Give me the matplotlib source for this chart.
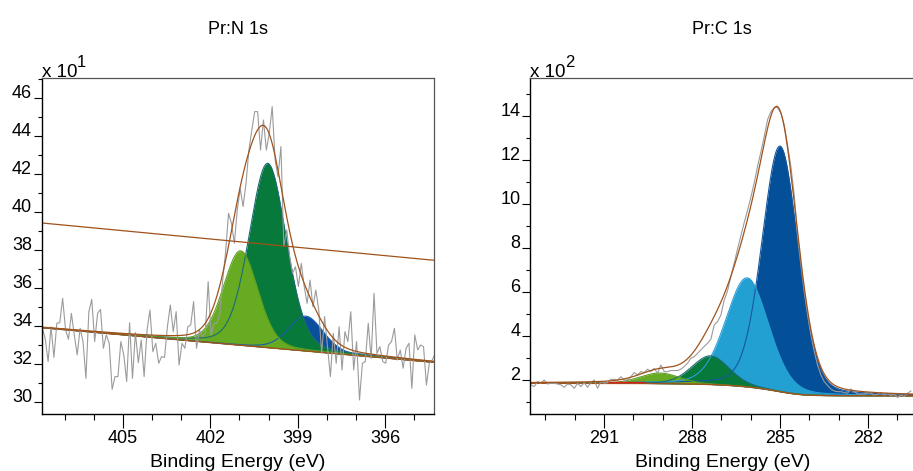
import numpy as np
import matplotlib.pyplot as plt
from matplotlib.ticker import MultipleLocator

plt.rcParams["font.family"] = ["Liberation Sans", "DejaVu Sans"]

# ---- Pr:N 1s (counts x 10^1), raw spectrum ----
n1s_be_range = [407.77, 394.28]
n1s_counts = [
    33.89, 33.36, 32.14, 33.97, 32.36, 34.15, 34.18, 35.46, 33.80, 33.31,
    34.67, 33.54, 32.49, 33.89, 33.19, 31.26, 34.76, 35.41, 33.19, 34.67,
    34.88, 32.84, 33.54, 33.10, 30.68, 31.35, 31.35, 33.19, 32.49, 31.09,
    34.18, 31.26, 33.66, 32.08, 33.27, 31.35,
    33.80, 34.85, 32.66, 33.10, 32.05, 32.40, 32.36, 33.97, 35.11, 33.71,
    34.76, 31.96, 33.10, 32.84, 33.97, 34.06, 35.29, 32.84, 33.80, 33.45,
    33.62, 36.34, 33.54, 34.15, 34.15, 34.67, 36.42, 37.91, 39.93, 39.40,
    38.35, 40.10, 41.24, 40.28, 41.50,
    43.25, 44.30, 45.27, 45.27, 43.25, 44.83, 43.25, 44.13, 45.53, 42.73,
    41.85, 43.43, 38.18, 39.05, 37.65, 36.78, 37.12, 36.08, 37.30, 36.08,
    35.20, 36.42, 35.02, 35.90, 34.85, 32.57, 34.50, 32.92, 31.35, 33.62,
    32.05, 33.97,
    31.70, 33.71, 33.19, 34.76, 31.70, 33.19, 30.12, 32.05, 32.14, 34.15,
    32.31, 35.72, 32.57, 32.92, 32.14, 32.05, 33.01, 33.19, 33.89, 32.22,
    32.75, 31.79, 32.84, 33.10, 30.73, 33.54, 32.75, 33.01, 32.92, 30.91,
    32.05, 32.22, 32.57,
]
n1s_xlim = [407.79, 394.32]
n1s_ylim = [29.37, 47.05]
n1s_bg_ends = [33.92, 32.10]     # linear background at the two x limits
n1s_line_ends = [39.42, 37.46]   # straight brown line across the panel
n1s_centers = [398.72, 400.03, 400.96]
n1s_heights = [1.83, 9.68, 4.96]
n1s_fwhm = [1.4, 1.5, 1.4]

# ---- Pr:C 1s (counts x 10^2) ----
c1s_be_range = [293.49, 280.54]
c1s_counts = [
    1.78, 1.70, 1.93, 1.85, 2.00, 1.82, 1.85, 1.85, 1.82, 1.78,
    1.67, 1.82, 1.78, 1.62, 1.85, 1.70, 1.88, 1.67, 1.88, 2.00,
    1.62, 1.93, 1.85, 1.88, 2.03, 2.03, 2.00, 2.15, 2.00, 2.00,
    2.15, 2.34, 2.23, 2.38, 2.34, 2.49, 2.38, 2.53, 2.31, 2.68,
    2.38, 2.38, 2.43, 2.43, 2.43, 2.49, 2.61, 2.76, 2.99, 3.06,
    3.21, 3.37, 3.52, 3.67,
    3.85, 4.50, 4.65, 4.95, 5.63, 6.05, 6.70, 7.30, 7.95, 8.55,
    9.15, 9.70, 10.30, 10.95, 11.70, 12.35, 13.05, 13.81, 14.18, 14.36,
    14.36, 14.11, 13.58, 12.67, 11.69, 10.40, 8.58, 7.22, 6.01, 4.95,
    4.05, 3.29, 2.68, 2.23, 1.93, 1.75, 1.59, 1.50,
    1.47, 1.47, 1.43, 1.40, 1.59, 1.47, 1.37, 1.37, 1.35, 1.43,
    1.40, 1.32, 1.35, 1.43, 1.32, 1.40, 1.29, 1.35, 1.20, 1.32,
    1.25, 1.40, 1.50,
]
c1s_xlim = [293.51, 280.40]
c1s_ylim = [0.443, 15.72]
c1s_bg_ends = [1.85, 1.28]       # Shirley background, high-BE and low-BE levels
c1s_centers = [285.00, 286.12, 287.37, 289.10]
c1s_heights = [11.15, 4.95, 1.30, 0.48]
c1s_fwhm = [1.45, 1.72, 1.5, 1.6]
c1s_red_span = [290.9, 289.6]

RAW = "#9b9b9b"
BROWN = "#a0521c"
n1s_fills = ["#0a4f9e", "#06793b", "#66ab22"]
n1s_edges = ["#1c5ea8", "#1d6a78", "#5e9f22"]
c1s_fills = ["#034f98", "#22a0d2", "#06793b", "#66ab22"]
c1s_edges = ["#1857a0", "#2a9fd6", "#1d6a78", "#5e9f22"]


# pseudo-Voigt (Gaussian/Lorentzian sum) line shape
def gl_peak(x, center, height, fwhm, mix=0.2):
    u = (x - center) / fwhm
    return height * ((1 - mix) * np.exp(-4 * np.log(2) * u ** 2) + mix / (1 + 4 * u ** 2))


def style_axes(ax, xlim, ylim, exponent):
    ax.set_xlim(xlim)
    ax.set_ylim(ylim)
    ax.xaxis.set_major_locator(MultipleLocator(3))
    ax.xaxis.set_minor_locator(MultipleLocator(1))
    ax.yaxis.set_major_locator(MultipleLocator(2))
    ax.yaxis.set_minor_locator(MultipleLocator(1))
    ax.tick_params(axis="both", which="both", direction="out", width=0.8,
                   labelsize=13, top=False, right=False)
    ax.tick_params(axis="y", which="major", length=6, pad=1)
    ax.tick_params(axis="y", which="minor", length=3)
    ax.tick_params(axis="x", which="major", length=10, pad=1.5)
    ax.tick_params(axis="x", which="minor", length=4.5)
    for tick in ax.yaxis.get_major_ticks():
        tick.label1.set_verticalalignment("baseline")
    for side in ["left", "bottom"]:
        ax.spines[side].set_color("black")
        ax.spines[side].set_linewidth(1.0)
    for side in ["top", "right"]:
        ax.spines[side].set_color("#555555")
        ax.spines[side].set_linewidth(0.9)
    ax.set_xlabel("Binding Energy (eV)", fontsize=14)
    ax.xaxis.set_label_coords(0.5, -0.1566)
    ax.xaxis.label.set_verticalalignment("baseline")
    ax.annotate("x 10", xy=(0, 1), xycoords="axes fraction", xytext=(0, 0.6),
                textcoords="offset points", fontsize=13.5, ha="left", va="baseline")
    ax.annotate(exponent, xy=(0, 1), xycoords="axes fraction", xytext=(25.2, 7.9),
                textcoords="offset points", fontsize=12, ha="left", va="baseline")


def draw_components(ax, xf, bg, comps, fills, edges):
    # lowest binding energy first, so higher-BE peaks sit on top
    for comp, color in zip(comps, fills):
        ax.fill_between(xf, bg, bg + comp, color=color, lw=0)
    for comp, color in zip(comps, edges):
        ax.plot(xf, bg + comp, color=color, lw=0.8)


fig = plt.figure(figsize=(9.13, 4.71), dpi=100)
ax1 = fig.add_axes([41.7 / 913, 56.7 / 471, 392.3 / 913, 336.6 / 471])
ax2 = fig.add_axes([530.3 / 913, 56.7 / 471, 384.7 / 913, 336.6 / 471])

# N 1s panel
xf = np.linspace(n1s_xlim[0], n1s_xlim[1], 800)
bg = np.interp(xf, n1s_xlim[::-1], n1s_bg_ends[::-1])
comps = [gl_peak(xf, c, h, w) for c, h, w in zip(n1s_centers, n1s_heights, n1s_fwhm)]
draw_components(ax1, xf, bg, comps, n1s_fills, n1s_edges)
ax1.plot(xf, bg, color=BROWN, lw=1.0)
n1s_be = np.linspace(n1s_be_range[0], n1s_be_range[1], len(n1s_counts))
ax1.plot(n1s_be, n1s_counts, color=RAW, lw=0.8)
ax1.plot(xf, bg + np.sum(comps, axis=0), color=BROWN, lw=0.9)
ax1.plot(n1s_xlim, n1s_line_ends, color=BROWN, lw=0.9)
style_axes(ax1, n1s_xlim, n1s_ylim, "1")

# C 1s panel
xf = np.linspace(c1s_xlim[0], c1s_xlim[1], 800)
comps = [gl_peak(xf, c, h, w) for c, h, w in zip(c1s_centers, c1s_heights, c1s_fwhm)]
total = np.sum(comps, axis=0)
area = np.cumsum(total[::-1])[::-1]
bg = c1s_bg_ends[1] + (c1s_bg_ends[0] - c1s_bg_ends[1]) * area / area[0]
draw_components(ax2, xf, bg, comps, c1s_fills, c1s_edges)
ax2.plot(xf, bg, color=BROWN, lw=1.0)
red = (xf <= c1s_red_span[0]) & (xf >= c1s_red_span[1])
ax2.plot(xf[red], bg[red] + 0.04, color="#d42020", lw=1.0)
c1s_be = np.linspace(c1s_be_range[0], c1s_be_range[1], len(c1s_counts))
ax2.plot(c1s_be, c1s_counts, color=RAW, lw=0.8)
ax2.plot(xf, bg + total, color=BROWN, lw=0.9)
style_axes(ax2, c1s_xlim, c1s_ylim, "2")

fig.text(238 / 913, 1 - 34 / 471, "Pr:N 1s", ha="center", va="baseline", fontsize=13)
fig.text(722 / 913, 1 - 34 / 471, "Pr:C 1s", ha="center", va="baseline", fontsize=13)

fig.savefig("out.png", dpi=100)
